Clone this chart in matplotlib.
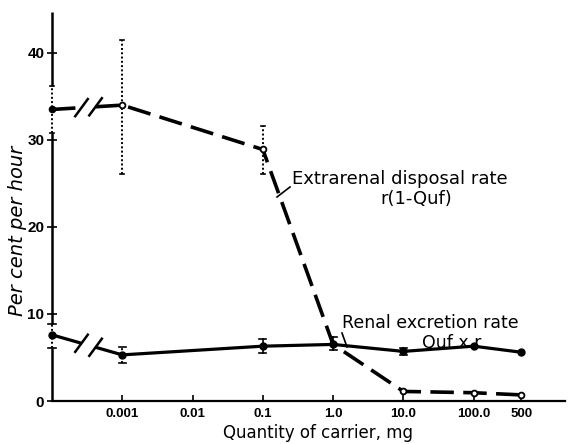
import numpy as np
import matplotlib
matplotlib.use("Agg")
import matplotlib.pyplot as plt
from matplotlib.lines import Line2D

# ---------------- data ----------------
tick_labels = ["0.001", "0.01", "0.1", "1.0", "10.0", "100.0", "500"]
point_cats = ["0", "0.001", "0.1", "1.0", "10.0", "100.0", "500"]

renal = [7.6, 5.3, 6.3, 6.5, 5.7, 6.3, 5.6]
renal_lo = [6.1, 4.4, 5.5, 5.9, 5.3, np.nan, np.nan]
renal_hi = [8.85, 6.2, 7.1, 7.3, 6.1, np.nan, np.nan]

extra = [33.5, 34.0, 28.9, 6.5, 1.1, 0.95, 0.7]
extra_lo = [30.8, 26.1, 26.1, np.nan, np.nan, np.nan, np.nan]
extra_hi = [36.2, 41.5, 31.6, np.nan, np.nan, np.nan, np.nan]

yticks = [0, 10, 20, 30, 40]

# ---------------- layout ----------------
W, H = 569, 444
cat_pos = {"0": 0.0}
for i, lab in enumerate(tick_labels):
    cat_pos[lab] = float(i + 1)
cat_pos["500"] = 6.68
xs = np.array([cat_pos[c] for c in point_cats])
tick_x = [cat_pos[l] for l in tick_labels]

fig = plt.figure(figsize=(W / 100, H / 100), dpi=100)
ax = fig.add_axes([52 / W, 1 - 401 / H, (565 - 52) / W, 389 / H])
ax.set_xlim(0, 7.3)
ax.set_ylim(0, 44.7)

for s in ["top", "right", "left"]:
    ax.spines[s].set_visible(False)
ax.spines["bottom"].set_linewidth(1.6)

# left axis drawn with gaps where the error bars at x=0 sit
ytop = 44.7
segs = [(0, renal_lo[0]), (renal_hi[0], extra_lo[0]), (extra_hi[0], ytop)]
for a, b in segs:
    ax.plot([0, 0], [a, b], color="black", lw=1.8, clip_on=False, zorder=3,
            solid_capstyle="butt")

ax.set_xticks(tick_x)
ax.set_xticklabels(tick_labels, fontfamily="Liberation Sans", fontweight="bold", fontsize=9.5)
ax.set_yticks(yticks)
ax.set_yticklabels([str(v) for v in yticks], fontfamily="Liberation Sans",
                   fontweight="bold", fontsize=11)
ax.tick_params(axis="x", direction="in", length=4, width=1.2, pad=5)
ax.tick_params(axis="y", direction="inout", length=7, width=1.2, pad=2)

b1, b2 = 0.42, 0.62  # axis-break positions between "0" and "0.001"


def draw_series(y, **kw):
    y = np.asarray(y, float)
    yb1 = y[0] + (y[1] - y[0]) * b1
    yb2 = y[0] + (y[1] - y[0]) * b2
    ax.plot([xs[0], b1], [y[0], yb1], **kw)
    ax.plot(np.r_[b2, xs[1:]], np.r_[yb2, y[1:]], **kw)
    for b, yb in [(b1, yb1), (b2, yb2)]:
        ax.plot([b - 0.1, b + 0.1], [yb - 1.1, yb + 1.1], color="black",
                lw=1.8, solid_capstyle="butt", zorder=4)


# extrarenal (dashed)
draw_series(extra, color="black", lw=2.6, dashes=(6.5, 2.6), zorder=4,
            dash_capstyle="butt")
for i in range(len(xs)):
    if not np.isnan(extra_lo[i]):
        ax.plot([xs[i], xs[i]], [extra_lo[i], extra_hi[i]], color="black",
                lw=1.4, ls=(0, (1, 1.2)), zorder=3, clip_on=False)
        for v in (extra_lo[i], extra_hi[i]):
            ax.plot([xs[i] - 0.03, xs[i] + 0.03], [v, v], color="black", lw=1.2,
                    zorder=3, clip_on=False)
ax.plot(xs[1:], extra[1:], ls="none", marker="o", ms=4.2, mfc="white",
        mec="black", mew=1.3, zorder=5)
ax.plot(xs[:1], extra[:1], ls="none", marker="o", ms=4.5, color="black",
        zorder=5, clip_on=False)

# renal (solid)
draw_series(renal, color="black", lw=2.3, zorder=6, solid_capstyle="butt")
for i in range(len(xs)):
    if not np.isnan(renal_lo[i]):
        dotted = i < 2
        ax.plot([xs[i], xs[i]], [renal_lo[i], renal_hi[i]], color="black",
                lw=1.2 if not dotted else 1.4,
                ls=(0, (1, 1.2)) if dotted else "-", zorder=6, clip_on=False)
        for v in (renal_lo[i], renal_hi[i]):
            ax.plot([xs[i] - 0.05, xs[i] + 0.05], [v, v], color="black", lw=1.2,
                    zorder=6, clip_on=False)
ax.plot(xs, renal, ls="none", marker="o", ms=5, color="black", zorder=7,
        clip_on=False)

# ---------------- text ----------------
def fx(px):
    return px / W


def fy(py):
    return 1 - py / H


fig.text(fx(292), fy(184), "Extrarenal disposal rate", fontsize=13,
         family="DejaVu Sans", va="baseline", ha="left")
fig.text(fx(416), fy(204), "r(1-Quf)", fontsize=13, family="DejaVu Sans",
         va="baseline", ha="center")
fig.add_artist(Line2D([fx(277), fx(290)], [fy(197), fy(187)], color="black", lw=1.2))

fig.text(fx(342), fy(328), "Renal excretion rate", fontsize=12.5,
         family="DejaVu Sans", va="baseline", ha="left")
fig.text(fx(452), fy(348), "Quf x r", fontsize=12.5, family="DejaVu Sans",
         va="baseline", ha="center")
fig.add_artist(Line2D([fx(342), fx(347)], [fy(333), fy(347)], color="black", lw=1.2))

fig.text(fx(318), fy(438), "Quantity of carrier, mg", fontsize=12,
         family="DejaVu Sans", va="baseline", ha="center")
fig.text(fx(18), fy(231), "Per cent per hour", fontsize=14, style="italic",
         family="DejaVu Sans", rotation=90, va="center", ha="center")

fig.savefig("out.png", dpi=100, facecolor="white")
